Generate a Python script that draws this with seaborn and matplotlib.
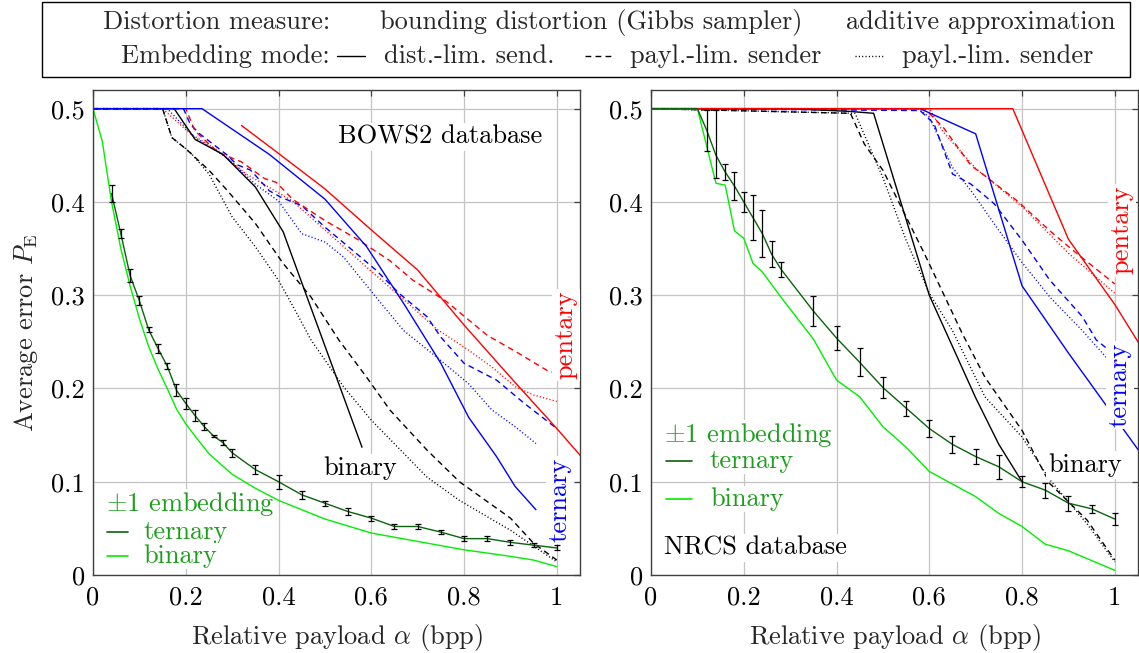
import numpy as np
import pandas as pd
import matplotlib
matplotlib.use("Agg")
import matplotlib.pyplot as plt
from matplotlib.lines import Line2D
from matplotlib.patches import Rectangle
import seaborn as sns

# ---------------- data: BOWS2 database (left panel) ----------------
# bounding distortion, distortion-limited sender (solid)
bows_bin_sol_x = [0, 0.175, 0.22, 0.28, 0.35, 0.41, 0.46, 0.58]
bows_bin_sol_y = [0.5, 0.5, 0.467, 0.451, 0.416, 0.368, 0.3, 0.137]
bows_ter_sol_x = [0, 0.235, 0.38, 0.5, 0.59, 0.67, 0.75, 0.81, 0.87, 0.91, 0.955]
bows_ter_sol_y = [0.5, 0.5, 0.451, 0.403, 0.352, 0.291, 0.227, 0.169, 0.127, 0.095, 0.07]
bows_pen_sol_x = [0.32, 0.4, 0.5, 0.6, 0.7, 0.8, 0.9, 1.0, 1.1]
bows_pen_sol_y = [0.482, 0.452, 0.414, 0.37, 0.327, 0.268, 0.212, 0.157, 0.1]
# bounding distortion, payload-limited sender (dashed)
bows_bin_das_x = [0, 0.15, 0.17, 0.2, 0.25, 0.29, 0.35, 0.41, 0.47, 0.53, 0.59, 0.64, 0.72, 0.79, 0.9, 0.95, 1.0]
bows_bin_das_y = [0.5, 0.5, 0.469, 0.457, 0.434, 0.412, 0.377, 0.334, 0.298, 0.252, 0.212, 0.177, 0.134, 0.1, 0.061, 0.034, 0.016]
bows_ter_das_x = [0, 0.195, 0.21, 0.23, 0.29, 0.31, 0.34, 0.38, 0.405, 0.45, 0.5, 0.56, 0.61, 0.66, 0.72, 0.75, 0.8, 0.87, 0.93, 1.0]
bows_ter_das_y = [0.5, 0.5, 0.483, 0.473, 0.45, 0.44, 0.434, 0.412, 0.405, 0.396, 0.373, 0.348, 0.327, 0.302, 0.277, 0.255, 0.227, 0.209, 0.184, 0.157]
bows_pen_das_x = [0, 0.2, 0.22, 0.27, 0.32, 0.37, 0.395, 0.43, 0.5, 0.57, 0.64, 0.69, 0.76, 0.85, 0.92, 0.98, 1.0]
bows_pen_das_y = [0.5, 0.5, 0.476, 0.453, 0.443, 0.425, 0.421, 0.403, 0.38, 0.36, 0.337, 0.316, 0.294, 0.257, 0.237, 0.219, 0.216]
# additive approximation, payload-limited sender (dotted)
bows_bin_dot_x = [0, 0.15, 0.17, 0.21, 0.25, 0.3, 0.35, 0.4, 0.44, 0.47, 0.54, 0.6, 0.72, 0.79, 0.9, 1.0]
bows_bin_dot_y = [0.5, 0.5, 0.469, 0.453, 0.43, 0.384, 0.352, 0.316, 0.28, 0.252, 0.202, 0.166, 0.105, 0.08, 0.048, 0.014]
bows_ter_dot_x = [0, 0.16, 0.22, 0.29, 0.35, 0.4, 0.45, 0.5, 0.54, 0.61, 0.67, 0.74, 0.81, 0.86, 0.91, 0.955]
bows_ter_dot_y = [0.5, 0.5, 0.469, 0.447, 0.419, 0.401, 0.366, 0.357, 0.341, 0.298, 0.262, 0.234, 0.205, 0.177, 0.159, 0.141]
bows_pen_dot_x = [0, 0.15, 0.21, 0.27, 0.33, 0.43, 0.5, 0.59, 0.68, 0.74, 0.81, 0.86, 0.91, 0.95, 1.0]
bows_pen_dot_y = [0.5, 0.5, 0.473, 0.455, 0.43, 0.401, 0.37, 0.33, 0.291, 0.264, 0.241, 0.223, 0.202, 0.193, 0.186]
# +-1 embedding
bows_pm_ter_x = [0.04, 0.06, 0.08, 0.1, 0.12, 0.14, 0.16, 0.18, 0.2, 0.22, 0.24, 0.26, 0.28, 0.3,
                 0.35, 0.4, 0.45, 0.5, 0.55, 0.6, 0.65, 0.7, 0.75, 0.8, 0.85, 0.9, 0.95, 1.0]
bows_pm_ter_y = [0.409, 0.366, 0.321, 0.294, 0.263, 0.243, 0.224, 0.198, 0.184, 0.171, 0.159, 0.149, 0.142, 0.131,
                 0.113, 0.1, 0.086, 0.077, 0.068, 0.061, 0.052, 0.052, 0.046, 0.039, 0.039, 0.035, 0.032, 0.029]
bows_pm_ter_err = [0.009, 0.005, 0.0068, 0.005, 0.0025, 0.0048, 0.003, 0.0066, 0.0057, 0.006, 0.0036, 0.001, 0.0027, 0.0045,
                   0.0048, 0.0077, 0.004, 0.0027, 0.004, 0.0027, 0.003, 0.003, 0.0023, 0.0025, 0.0027, 0.0023, 0.0018, 0.0027]
bows_pm_bin_x = [0, 0.02, 0.04, 0.06, 0.08, 0.1, 0.12, 0.14, 0.16, 0.18, 0.2, 0.22, 0.25, 0.3,
                 0.35, 0.4, 0.5, 0.6, 0.7, 0.8, 0.9, 0.95, 1.0]
bows_pm_bin_y = [0.5, 0.465, 0.4, 0.35, 0.31, 0.275, 0.245, 0.221, 0.2, 0.178, 0.162, 0.149, 0.13, 0.108,
                 0.093, 0.08, 0.06, 0.045, 0.036, 0.027, 0.02, 0.016, 0.009]

# ---------------- data: NRCS database (right panel) ----------------
nrcs_bin_sol_x = [0, 0.3, 0.43, 0.48, 0.6, 0.7, 0.75, 0.8]
nrcs_bin_sol_y = [0.5, 0.5, 0.497, 0.495, 0.3, 0.19, 0.14, 0.1]
nrcs_ter_sol_x = [0, 0.58, 0.7, 0.8, 0.9, 1.0, 1.1]
nrcs_ter_sol_y = [0.5, 0.5, 0.473, 0.31, 0.238, 0.169, 0.1]
nrcs_pen_sol_x = [0, 0.78, 0.9, 1.0, 1.1]
nrcs_pen_sol_y = [0.5, 0.5, 0.36, 0.29, 0.21]
nrcs_bin_das_x = [0, 0.43, 0.46, 0.5, 0.55, 0.59, 0.63, 0.67, 0.72, 0.8, 0.86, 0.94, 1.0]
nrcs_bin_das_y = [0.5, 0.495, 0.462, 0.434, 0.384, 0.344, 0.302, 0.26, 0.212, 0.155, 0.098, 0.059, 0.016]
nrcs_ter_das_x = [0, 0.58, 0.61, 0.65, 0.69, 0.74, 0.8, 0.86, 0.93, 0.96, 1.0]
nrcs_ter_das_y = [0.5, 0.498, 0.484, 0.43, 0.419, 0.398, 0.359, 0.316, 0.277, 0.252, 0.236]
nrcs_pen_das_x = [0, 0.59, 0.63, 0.69, 0.72, 0.79, 0.86, 0.91, 1.0]
nrcs_pen_das_y = [0.5, 0.5, 0.48, 0.439, 0.428, 0.401, 0.369, 0.348, 0.312]
nrcs_bin_dot_x = [0, 0.44, 0.5, 0.55, 0.6, 0.65, 0.72, 0.8, 0.86, 0.94, 1.0]
nrcs_bin_dot_y = [0.5, 0.495, 0.426, 0.359, 0.302, 0.262, 0.191, 0.148, 0.102, 0.055, 0.014]
nrcs_ter_dot_x = [0, 0.575, 0.6, 0.65, 0.69, 0.755, 0.8, 0.86, 0.93, 1.0]
nrcs_ter_dot_y = [0.5, 0.5, 0.491, 0.437, 0.412, 0.366, 0.335, 0.298, 0.262, 0.223]
nrcs_pen_dot_x = [0, 0.6, 0.63, 0.7, 0.8, 0.9, 1.0]
nrcs_pen_dot_y = [0.5, 0.5, 0.475, 0.436, 0.395, 0.345, 0.302]
nrcs_pm_ter_x = [0, 0.1, 0.12, 0.14, 0.16, 0.18, 0.2, 0.22, 0.24, 0.26, 0.28, 0.35, 0.4,
                 0.45, 0.5, 0.55, 0.6, 0.65, 0.7, 0.75, 0.8, 0.85, 0.9, 0.95, 1.0]
nrcs_pm_ter_y = [0.5, 0.5, 0.477, 0.45, 0.432, 0.417, 0.4, 0.383, 0.366, 0.344, 0.328, 0.283, 0.254,
                 0.228, 0.201, 0.179, 0.157, 0.14, 0.127, 0.116, 0.1, 0.091, 0.077, 0.071, 0.06]
nrcs_pm_ter_err_lo = [0, 0, 0.022, 0.024, 0.009, 0.015, 0.011, 0.024, 0.025, 0.014, 0.008, 0.016, 0.013,
                      0.015, 0.011, 0.008, 0.009, 0.009, 0.008, 0.013, 0.006, 0.008, 0.008, 0.0045, 0.006]
nrcs_pm_ter_err_hi = [0, 0, 0.022, 0.049, 0.009, 0.015, 0.011, 0.024, 0.025, 0.014, 0.008, 0.016, 0.013,
                      0.015, 0.011, 0.008, 0.009, 0.009, 0.008, 0.013, 0.006, 0.008, 0.008, 0.0045, 0.006]
nrcs_pm_bin_x = [0, 0.1, 0.14, 0.16, 0.18, 0.2, 0.22, 0.24, 0.28, 0.35, 0.4, 0.45, 0.5,
                 0.55, 0.6, 0.7, 0.75, 0.8, 0.85, 0.9, 1.0]
nrcs_pm_bin_y = [0.5, 0.5, 0.42, 0.418, 0.369, 0.361, 0.334, 0.325, 0.298, 0.253, 0.209, 0.191, 0.159,
                 0.137, 0.111, 0.084, 0.066, 0.052, 0.033, 0.026, 0.005]

x_ticks = [0, 0.2, 0.4, 0.6, 0.8, 1.0]
x_tick_labels = ["0", "0.2", "0.4", "0.6", "0.8", "1"]
y_ticks = [0, 0.1, 0.2, 0.3, 0.4, 0.5]
y_tick_labels = ["0", "0.1", "0.2", "0.3", "0.4", "0.5"]

# ---------------- styling ----------------
sns.set_theme(style="whitegrid")
plt.rcParams.update({
    "font.family": ["cmr10", "DejaVu Serif"],
    "mathtext.fontset": "cm",
    "axes.formatter.use_mathtext": True,
    "axes.edgecolor": "#404040",
    "axes.linewidth": 1.0,
    "grid.color": "#c4c4c4",
    "grid.linewidth": 0.9,
    "xtick.direction": "in",
    "ytick.direction": "in",
    "xtick.color": "#404040",
    "ytick.color": "#404040",
    "xtick.labelcolor": "black",
    "ytick.labelcolor": "black",
    "xtick.major.size": 4,
    "ytick.major.size": 4,
    "xtick.top": True,
    "ytick.right": True,
})

RED, BLUE, BLACK = "#ff0000", "#0000ff", "#000000"
LIME, DKGREEN, TXTGREEN = "#00ee00", "#0a640a", "#1e9e1e"
SOLID = "-"
DASHED = (0, (4.2, 3.0))
DOTTED = (0, (0.8, 1.6))
FS_TICK = 19
FS_TEXT = 19
FS_HEAD = 19

W, H = 1139, 653
fig = plt.figure(figsize=(W / 100, H / 100), dpi=100)
ax_l = fig.add_axes([93 / W, 1 - 575 / H, 487 / W, 485 / H])
ax_r = fig.add_axes([651 / W, 1 - 575 / H, 487 / W, 485 / H])


def curve(ax, x, y, color, ls, lw=1.0):
    df = pd.DataFrame({"x": x, "y": y})
    sns.lineplot(data=df, x="x", y="y", ax=ax, color=color, linestyle=ls,
                 linewidth=lw, sort=False, estimator=None, errorbar=None)


def style_axes(ax):
    ax.set_xlim(0, 1.05)
    ax.set_ylim(0, 0.52)
    ax.set_xticks(x_ticks)
    ax.set_xticklabels(x_tick_labels, fontsize=FS_TICK)
    ax.set_yticks(y_ticks)
    ax.set_yticklabels(y_tick_labels, fontsize=FS_TICK)
    ax.tick_params(axis="x", which="major", pad=8, width=0.9)
    ax.tick_params(axis="y", which="major", pad=6, width=0.9)
    ax.grid(True)
    ax.set_axisbelow(True)
    ax.set_xlabel(r"Relative payload $\alpha$ (bpp)", fontsize=FS_TICK, labelpad=9)
    for s in ax.spines.values():
        s.set_visible(True)
        s.set_color("#404040")


box = dict(facecolor="white", edgecolor="none", pad=1.5)
key_box = dict(facecolor="white", edgecolor="none", pad=0.5)


def pm_key(ax, title_y, rows, line_x, text_x, title_x=0.027):
    """Green key for the +-1 embedding curves, placed in axes coordinates.
    The white boxes sit above the grid but below the curves."""
    ax.text(title_x, title_y, r"$\pm$1 embedding", transform=ax.transAxes,
            ha="left", va="center", fontsize=FS_TEXT, color=TXTGREEN, bbox=key_box, zorder=1.5)
    for (label, color, y) in rows:
        ax.add_line(Line2D(line_x, [y, y], color=color, lw=1.2, transform=ax.transAxes, zorder=7))
        ax.text(text_x, y, label, transform=ax.transAxes, ha="left", va="center",
                fontsize=FS_TEXT, color=TXTGREEN, bbox=key_box, zorder=1.5)


# ---- left panel: BOWS2 ----
ax = ax_l
curve(ax, bows_pen_dot_x, bows_pen_dot_y, RED, DOTTED)
curve(ax, bows_ter_dot_x, bows_ter_dot_y, BLUE, DOTTED)
curve(ax, bows_bin_dot_x, bows_bin_dot_y, BLACK, DOTTED)
curve(ax, bows_bin_das_x, bows_bin_das_y, BLACK, DASHED)
curve(ax, bows_ter_das_x, bows_ter_das_y, BLUE, DASHED)
curve(ax, bows_pen_das_x, bows_pen_das_y, RED, DASHED)
curve(ax, bows_bin_sol_x, bows_bin_sol_y, BLACK, SOLID)
curve(ax, bows_ter_sol_x, bows_ter_sol_y, BLUE, SOLID)
curve(ax, bows_pen_sol_x, bows_pen_sol_y, RED, SOLID)
curve(ax, bows_pm_bin_x, bows_pm_bin_y, LIME, SOLID)
curve(ax, bows_pm_ter_x, bows_pm_ter_y, DKGREEN, SOLID)
ax.errorbar(bows_pm_ter_x, bows_pm_ter_y, yerr=bows_pm_ter_err, fmt="none",
            ecolor="black", elinewidth=0.9, capsize=2.5, capthick=0.9, zorder=4)
style_axes(ax)
ax.set_ylabel(r"Average error $P_\mathrm{E}$", fontsize=FS_TICK, labelpad=8)
ax.text(0.713, 0.903, "BOWS2 database", transform=ax.transAxes, ha="center", va="center",
        fontsize=FS_TEXT, color="black", bbox=box, zorder=6)
ax.text(0.548, 0.221, "binary", transform=ax.transAxes, ha="center", va="center",
        fontsize=FS_TEXT, color="black", bbox=box, zorder=6)
ax.text(0.971, 0.495, "pentary", transform=ax.transAxes, ha="center", va="center",
        rotation=90, fontsize=FS_TEXT, color=RED, bbox=box, zorder=6)
ax.text(0.959, 0.155, "ternary", transform=ax.transAxes, ha="center", va="center",
        rotation=90, fontsize=FS_TEXT, color=BLUE, bbox=box, zorder=6)
pm_key(ax, 0.1464, [("ternary", DKGREEN, 0.0887), ("binary", LIME, 0.0392)],
       [0.029, 0.072], 0.103)

# ---- right panel: NRCS ----
ax = ax_r
curve(ax, nrcs_pen_dot_x, nrcs_pen_dot_y, RED, DOTTED)
curve(ax, nrcs_ter_dot_x, nrcs_ter_dot_y, BLUE, DOTTED)
curve(ax, nrcs_bin_dot_x, nrcs_bin_dot_y, BLACK, DOTTED)
curve(ax, nrcs_bin_das_x, nrcs_bin_das_y, BLACK, DASHED)
curve(ax, nrcs_ter_das_x, nrcs_ter_das_y, BLUE, DASHED)
curve(ax, nrcs_pen_das_x, nrcs_pen_das_y, RED, DASHED)
curve(ax, nrcs_bin_sol_x, nrcs_bin_sol_y, BLACK, SOLID)
curve(ax, nrcs_ter_sol_x, nrcs_ter_sol_y, BLUE, SOLID)
curve(ax, nrcs_pen_sol_x, nrcs_pen_sol_y, RED, SOLID)
curve(ax, nrcs_pm_bin_x, nrcs_pm_bin_y, LIME, SOLID)
curve(ax, nrcs_pm_ter_x, nrcs_pm_ter_y, DKGREEN, SOLID)
ax.errorbar(nrcs_pm_ter_x[2:], nrcs_pm_ter_y[2:],
            yerr=[nrcs_pm_ter_err_lo[2:], nrcs_pm_ter_err_hi[2:]], fmt="none",
            ecolor="black", elinewidth=0.9, capsize=2.5, capthick=0.9, zorder=4)
style_axes(ax)
ax.set_ylabel("")
ax.text(0.967, 0.711, "pentary", transform=ax.transAxes, ha="center", va="center",
        rotation=90, fontsize=FS_TEXT, color=RED, bbox=box, zorder=6)
ax.text(0.963, 0.392, "ternary", transform=ax.transAxes, ha="center", va="center",
        rotation=90, fontsize=FS_TEXT, color=BLUE, bbox=box, zorder=6)
ax.text(0.891, 0.227, "binary", transform=ax.transAxes, ha="center", va="center",
        fontsize=FS_TEXT, color="black", bbox=box, zorder=6)
ax.text(0.027, 0.056, "NRCS database", transform=ax.transAxes, ha="left", va="center",
        fontsize=FS_TEXT, color="black", bbox=box, zorder=6)
pm_key(ax, 0.289, [("ternary", DKGREEN, 0.235), ("binary", LIME, 0.157)],
       [0.031, 0.084], 0.121)

# ---- shared legend box at the top ----
fig.patches.append(Rectangle((42 / W, 1 - 77 / H), (1130 - 42) / W, 75 / H,
                             transform=fig.transFigure, facecolor="white",
                             edgecolor="black", linewidth=1.0))
row1, row2 = 1 - 22 / H, 1 - 56 / H
fig.text(103 / W, row1, "Distortion measure:", ha="left", va="center", fontsize=FS_HEAD)
fig.text(380 / W, row1, "bounding distortion (Gibbs sampler)", ha="left", va="center", fontsize=FS_HEAD)
fig.text(1116 / W, row1, "additive approximation", ha="right", va="center", fontsize=FS_HEAD)
fig.text(330 / W, row2, "Embedding mode:", ha="right", va="center", fontsize=FS_HEAD)
for (x0, x1, ls, tx, label) in [(337, 365, SOLID, 384, "dist.-lim. send."),
                                (585, 613, DASHED, 630, "payl.-lim. sender"),
                                (855, 885, DOTTED, 902, "payl.-lim. sender")]:
    fig.add_artist(Line2D([x0 / W, x1 / W], [row2, row2], color="black", lw=1.0,
                          linestyle=ls, transform=fig.transFigure))
    fig.text(tx / W, row2, label, ha="left", va="center", fontsize=FS_HEAD)

fig.savefig("out.png", dpi=100)
